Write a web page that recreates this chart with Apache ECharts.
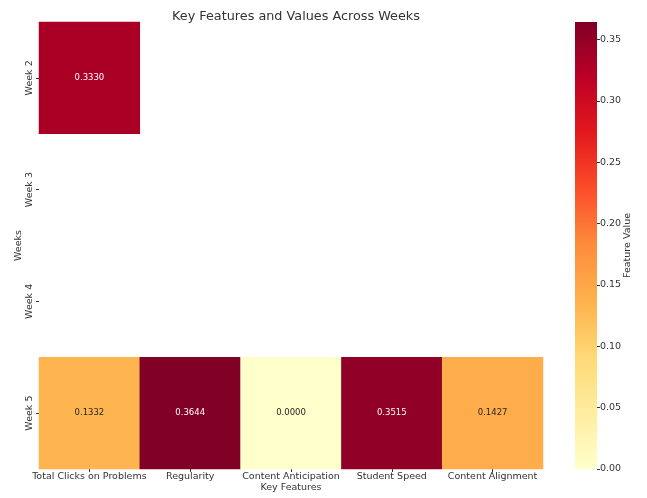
<!DOCTYPE html>
<html>
<head>
<meta charset="utf-8">
<script src="https://cdn.jsdelivr.net/npm/echarts@6/dist/echarts.min.js"></script>
<style>
  html, body { margin: 0; padding: 0; background: #fff; }
  #main { width: 647px; height: 498px; }
</style>
</head>
<body>
<div id="main"></div>
<script>
var features = ['Total Clicks on Problems', 'Regularity', 'Content Anticipation', 'Student Speed', 'Content Alignment'];
var weeks = ['Week 2', 'Week 3', 'Week 4', 'Week 5'];
// one row per week, null = no value
var week2 = [0.3330, null, null, null, null];
var week3 = [null, null, null, null, null];
var week4 = [null, null, null, null, null];
var week5 = [0.1332, 0.3644, 0.0000, 0.3515, 0.1427];
var vmin = 0, vmax = 0.3644;

var ylorrd = ['#ffffcc', '#ffeda0', '#fed976', '#feb24c', '#fd8d3c', '#fc4e2a', '#e31a1c', '#bd0026', '#800026'];

var rows = [week2, week3, week4, week5];
var cells = [];
for (var r = 0; r < rows.length; r++) {
    for (var c = 0; c < rows[r].length; c++) {
        var v = rows[r][c];
        if (v === null) continue;
        cells.push({
            value: [c, r, v],
            label: { color: v > 0.2 ? '#fff' : '#262626' }
        });
    }
}

var myChart = echarts.init(document.getElementById('main'));
var stops = ylorrd.map(function (col, i) {
    return { offset: 1 - i / (ylorrd.length - 1), color: col };
});

var option = {
    animation: false,
    textStyle: { fontFamily: 'DejaVu Sans' },
    title: {
        text: 'Key Features and Values Across Weeks',
        left: 291,
        textAlign: 'center',
        top: 5,
        textStyle: { fontSize: 12.8, fontWeight: 'normal', color: '#333' }
    },
    grid: [
        { left: 39, right: 104, top: 22, bottom: 29, outerBoundsMode: 'none' },
        { left: 575, width: 22, top: 22, bottom: 29, outerBoundsMode: 'none' }
    ],
    xAxis: [
        {
            type: 'category', data: features, gridIndex: 0,
            name: 'Key Features', nameLocation: 'middle', nameGap: 14, nameMoveOverlap: false,
            nameTextStyle: { fontSize: 9.5, color: '#333' },
            axisLine: { show: false },
            axisTick: { show: true, alignWithLabel: true, length: 3, lineStyle: { color: '#333' } },
            axisLabel: { fontSize: 9.5, color: '#333', margin: 3, interval: 0 },
            splitLine: { show: false }
        },
        {
            type: 'category', data: ['bar'], gridIndex: 1, show: false
        }
    ],
    yAxis: [
        {
            type: 'category', data: weeks, gridIndex: 0, inverse: true,
            name: 'Weeks', nameLocation: 'middle', nameGap: 15, nameRotate: 90, nameMoveOverlap: false,
            nameTextStyle: { fontSize: 9.5, color: '#333' },
            axisLine: { show: false },
            axisTick: { show: true, alignWithLabel: true, length: 3, lineStyle: { color: '#333' } },
            axisLabel: { fontSize: 9.5, color: '#333', rotate: 90, margin: 4 },
            splitLine: { show: false }
        },
        {
            type: 'value', gridIndex: 1, position: 'right',
            min: vmin, max: vmax, interval: 0.05,
            name: 'Feature Value', nameLocation: 'middle', nameGap: 26, nameRotate: 90, nameMoveOverlap: false,
            nameTextStyle: { fontSize: 9.5, color: '#333' },
            axisLine: { show: false },
            axisTick: { show: true, length: 3, lineStyle: { color: '#333' } },
            axisLabel: {
                fontSize: 9.5, color: '#333', margin: 3,
                showMaxLabel: false,
                formatter: function (v) { return v.toFixed(2); }
            },
            splitLine: { show: false }
        }
    ],
    visualMap: {
        show: false,
        min: vmin, max: vmax,
        seriesIndex: 0,
        dimension: 2,
        inRange: { color: ylorrd }
    },
    series: [
        {
            type: 'heatmap',
            xAxisIndex: 0, yAxisIndex: 0,
            data: cells,
            label: {
                show: true, fontSize: 8.5,
                formatter: function (p) { return p.value[2].toFixed(4); }
            },
            itemStyle: { borderWidth: 0 },
            emphasis: { disabled: true }
        },
        {
            type: 'bar',
            xAxisIndex: 1, yAxisIndex: 1,
            data: [vmax],
            barWidth: '100%',
            silent: true,
            itemStyle: { color: new echarts.graphic.LinearGradient(0, 0, 0, 1, stops) }
        }
    ]
};

myChart.setOption(option);
window.addEventListener('resize', function () { myChart.resize(); });
</script>
</body>
</html>
